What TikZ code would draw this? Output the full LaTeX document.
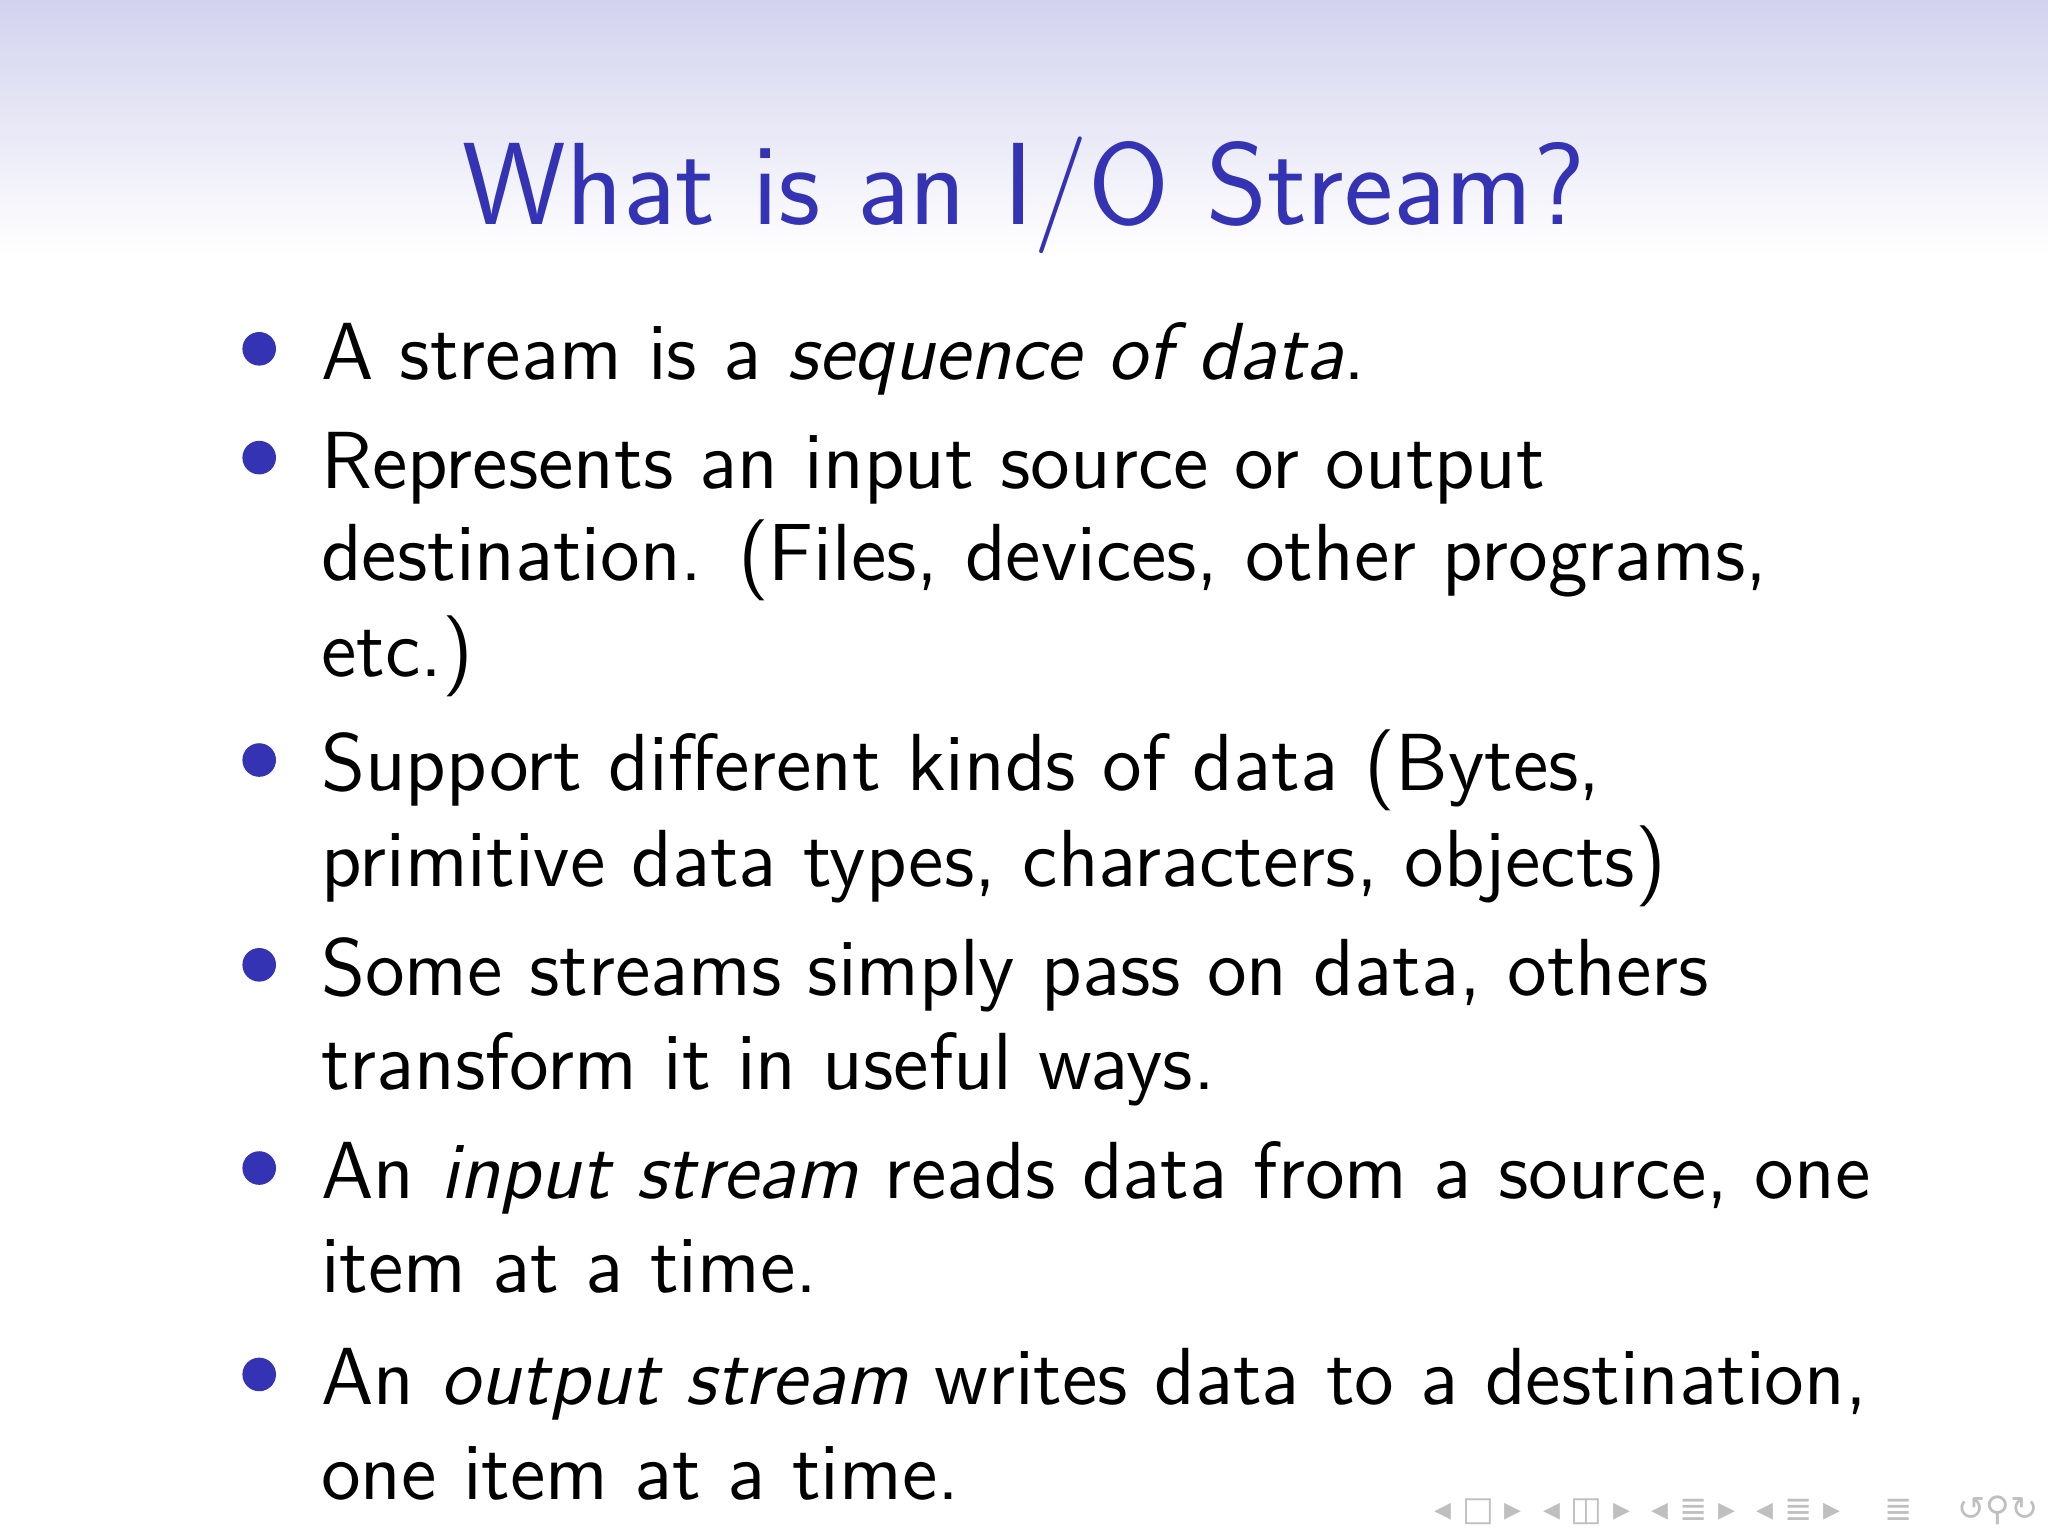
\documentclass[tikz,border=0pt]{standalone}
\usepackage{fontspec}
\newfontfamily\dv{DejaVu Sans}
\definecolor{sblue}{RGB}{51,51,179}
\begin{document}
\begin{tikzpicture}[x=1cm,y=1cm,
  ln/.style={anchor=base west,inner sep=0pt,font=\fontsize{14.4}{18}\selectfont\sffamily},
  bul/.style={circle,fill=sblue,inner sep=0pt,minimum size=0.21cm}]
\useasboundingbox (0,0) rectangle (12.8,9.6);
\shade[top color=sblue!22,bottom color=white] (0,8.0) rectangle (12.8,9.6);
\node[anchor=base,inner sep=0pt,text=sblue,font=\fontsize{20.8}{24}\selectfont\sffamily] (title) at (6.4,8.2) {What is an I/O Stream?};
\foreach \y/\n in {7.23/b1,6.55/b2,4.66/b3,3.38/b4,2.11/b5,0.82/b6}
  \node[bul] (\n) at (1.62,\y+0.19) {};
\node[ln] (l1) at (2.0,7.23) {A stream is a \textit{sequence of data}.};
\node[ln] (l2) at (2.0,6.55) {Represents an input source or output};
\node[ln] (l3) at (2.0,5.97) {destination. (Files, devices, other programs,};
\node[ln] (l4) at (2.0,5.37) {etc.)};
\node[ln] (l5) at (2.0,4.66) {Support different kinds of data (Bytes,};
\node[ln] (l6) at (2.0,4.06) {primitive data types, characters, objects)};
\node[ln] (l7) at (2.0,3.38) {Some streams simply pass on data, others};
\node[ln] (l8) at (2.0,2.79) {transform it in useful ways.};
\node[ln] (l9) at (2.0,2.11) {An \textit{input stream} reads data from a source, one};
\node[ln] (l10) at (2.0,1.52) {item at a time.};
\node[ln] (l11) at (2.0,0.82) {An \textit{output stream} writes data to a destination,};
\node[ln] (l12) at (2.0,0.23) {one item at a time.};
\node[anchor=base east,inner sep=0pt,text=black!25,font=\fontsize{6}{7}\selectfont\dv] (nav) at (12.75,0.1) {◂ □ ▸ \ ◂ ◫ ▸ \ ◂ ≣ ▸ \ ◂ ≣ ▸ \quad ≣ \quad ↺⚲↻};
\end{tikzpicture}
\end{document}
